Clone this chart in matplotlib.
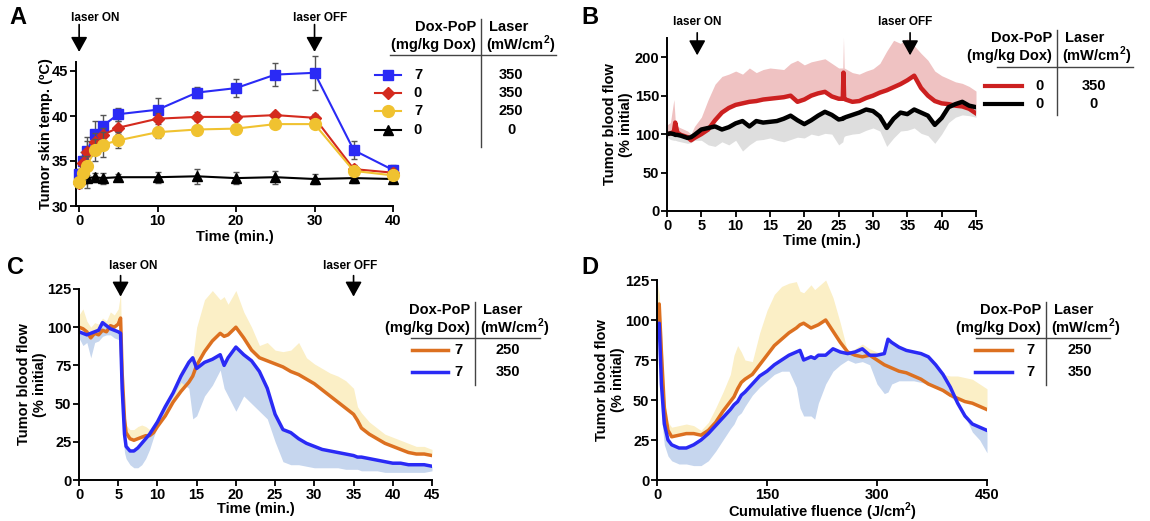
import matplotlib
matplotlib.use('Agg')
import matplotlib.pyplot as plt
from matplotlib.lines import Line2D

plt.rcParams['font.family'] = ['Liberation Sans', 'DejaVu Sans']
plt.rcParams['font.weight'] = 'bold'
plt.rcParams['axes.labelweight'] = 'bold'
plt.rcParams['mathtext.fontset'] = 'custom'
plt.rcParams['mathtext.rm'] = 'Liberation Sans:bold'
plt.rcParams['mathtext.bf'] = 'Liberation Sans:bold'

# ---------------- Panel A: skin temperature ----------------
a_time = [0, 0.5, 1, 2, 3, 5, 10, 15, 20, 25, 30, 35, 40]
a_blue = [33.6, 35.0, 36.1, 38.0, 38.9, 40.2, 40.7, 42.6, 43.1, 44.6, 44.8, 36.2, 34.0]
a_blue_err = [0.5, 1.0, 1.6, 1.5, 1.2, 0.7, 1.3, 0.6, 1.0, 1.3, 1.9, 1.0, 0.6]
a_red = [32.6, 34.8, 36.0, 37.1, 37.9, 38.7, 39.7, 39.9, 39.9, 40.1, 39.8, 34.1, 33.7]
a_red_err = [0.6, 0.8, 1.2, 1.0, 0.8, 0.7, 0.6, 0.5, 0.5, 0.4, 0.4, 0.5, 0.5]
a_yellow = [32.7, 33.7, 34.5, 36.2, 36.8, 37.3, 38.2, 38.5, 38.6, 39.1, 39.1, 33.9, 33.4]
a_yellow_err = [0.5, 0.8, 1.1, 1.2, 1.4, 0.9, 0.6, 0.5, 0.4, 0.4, 0.4, 0.4, 0.4]
a_black = [33.0, 33.1, 33.1, 33.2, 33.1, 33.2, 33.2, 33.3, 33.1, 33.2, 33.0, 33.1, 33.0]
a_black_err = [0.6, 0.7, 1.1, 0.5, 0.6, 0.4, 0.6, 0.8, 0.7, 0.7, 0.6, 0.5, 0.4]
a_dose = ['7', '0', '7', '0']
a_laser = ['350', '350', '250', '0']

# ---------------- Panel B: blood flow, no drug ----------------
b_time = [0, 0.5, 1, 1.2, 1.5, 2, 3, 3.5, 4, 5, 6, 7, 8, 9, 10, 11, 12, 13, 14, 15,
          16, 17, 18, 19, 20, 21, 22, 23, 24, 25, 25.6, 25.7, 25.8, 26, 27, 28, 29, 30,
          31, 32, 33, 34, 35, 36, 37, 38, 39, 40, 41, 42, 43, 44, 45]
b_red = [100, 101, 103, 115, 102, 99, 96, 92, 95, 100, 106, 118, 128, 134, 138, 140, 142, 143, 145, 146,
         147, 148, 150, 142, 145, 150, 153, 155, 149, 146, 146, 180, 146, 145, 142, 143, 147, 150,
         154, 157, 161, 165, 170, 176, 160, 150, 143, 140, 139, 137, 136, 133, 127]
b_red_hi = [112, 115, 145, 118, 110, 108, 104, 100, 110, 122, 145, 165, 175, 178, 182, 178, 186, 180, 184, 186,
            185, 184, 192, 196, 190, 194, 196, 198, 192, 186, 186, 226, 186, 185, 180, 178, 182, 185,
            192, 208, 222, 218, 224, 215, 205, 196, 182, 176, 172, 168, 166, 162, 156]
b_black = [100, 101, 100, 99, 99, 98, 95, 96, 99, 106, 108, 110, 106, 109, 114, 117, 110, 117, 115, 116,
           117, 120, 124, 118, 113, 118, 124, 129, 125, 119, 120, 121, 121, 122, 125, 128, 132, 130,
           123, 108, 120, 128, 126, 132, 128, 124, 112, 121, 135, 139, 142, 137, 135]
b_black_lo = [96, 93, 92, 92, 91, 90, 88, 89, 92, 92, 86, 84, 90, 86, 92, 78, 86, 92, 93, 95,
              92, 90, 93, 96, 95, 100, 98, 101, 100, 86, 90, 95, 97, 98, 100, 101, 105, 108,
              104, 84, 95, 104, 105, 108, 101, 98, 88, 100, 115, 122, 125, 124, 122]
b_dose = ['0', '0']
b_laser = ['350', '0']

# ---------------- Panel C: blood flow vs time, Dox-PoP ----------------
c_time = [0, 0.5, 1, 1.5, 2, 2.5, 3, 3.5, 4, 4.5, 5, 5.3, 5.5, 5.8, 6, 6.5, 7, 7.5, 8, 8.5,
          9, 9.5, 10, 11, 12, 13, 14, 14.5, 15, 16, 17, 18, 18.5, 19, 20, 21, 22, 23, 24, 25,
          26, 27, 28, 29, 30, 31, 32, 33, 34, 35, 35.5, 36, 37, 38, 39, 40, 41, 42, 43, 44, 45]
c_orange = [100, 99, 97, 93, 96, 95, 98, 97, 101, 100, 102, 106, 70, 40, 31, 27, 26, 27, 28, 29,
            29, 31, 35, 42, 51, 58, 64, 68, 75, 84, 91, 96, 94, 95, 100, 93, 85, 80, 78, 76,
            74, 71, 69, 66, 63, 59, 55, 51, 47, 43, 39, 34, 30, 27, 24, 22, 20, 18, 17, 17, 16]
c_orange_hi = [108, 112, 104, 100, 103, 102, 106, 104, 110, 108, 112, 122, 75, 45, 36, 33, 33, 35, 36, 35,
               33, 34, 38, 45, 58, 72, 78, 80, 100, 118, 124, 118, 120, 115, 124, 110, 100, 88, 90, 85,
               84, 85, 90, 80, 76, 73, 70, 68, 65, 60, 48, 44, 38, 34, 30, 28, 26, 24, 22, 22, 20]
c_blue = [97, 96, 95, 96, 97, 98, 103, 101, 99, 98, 97, 96, 60, 30, 22, 19, 19, 21, 24, 27,
          30, 34, 38, 48, 57, 68, 77, 80, 73, 77, 79, 82, 75, 80, 87, 82, 78, 71, 60, 43,
          33, 31, 27, 24, 22, 20, 19, 18, 17, 16, 15, 15, 14, 13, 12, 11, 11, 10, 10, 10, 9]
c_blue_lo = [93, 88, 90, 80, 90, 91, 94, 95, 95, 93, 92, 90, 40, 18, 14, 10, 8, 8, 10, 14,
             20, 28, 35, 45, 55, 64, 60, 40, 42, 55, 62, 72, 60, 55, 45, 55, 50, 45, 40, 25,
             12, 10, 10, 9, 8, 8, 8, 8, 7, 7, 7, 6, 6, 6, 5, 5, 5, 5, 5, 5, 6]

# ---------------- Panel D: blood flow vs fluence ----------------
d_fluence = [0, 3, 6, 10, 15, 20, 30, 40, 50, 60, 70, 80, 90, 100, 105, 110, 115, 120, 130, 140,
             150, 160, 170, 180, 190, 195, 200, 210, 215, 220, 230, 240, 250, 260, 270, 280, 290, 300,
             310, 315, 320, 330, 340, 350, 360, 370, 380, 390, 400, 410, 420, 430, 440, 450]
d_orange = [100, 110, 80, 45, 31, 27, 28, 29, 29, 28, 31, 36, 43, 49, 52, 57, 61, 63, 66, 72,
            78, 84, 88, 92, 95, 97, 98, 95, 96, 97, 100, 93, 86, 80, 78, 77, 78, 75,
            72, 71, 70, 68, 67, 65, 63, 60, 58, 56, 53, 51, 49, 48, 46, 44]
d_orange_hi = [124, 116, 95, 52, 36, 33, 34, 35, 34, 31, 36, 45, 55, 66, 78, 84, 80, 75, 74, 92,
               106, 116, 121, 123, 124, 118, 117, 122, 119, 121, 125, 114, 98, 80, 82, 85, 82, 80,
               79, 80, 78, 77, 76, 75, 74, 71, 68, 66, 65, 65, 64, 63, 60, 57]
d_blue = [95, 98, 60, 35, 25, 22, 20, 20, 22, 25, 29, 34, 39, 44, 47, 49, 53, 55, 60, 65,
          68, 72, 75, 78, 80, 81, 75, 77, 76, 78, 78, 82, 80, 79, 80, 82, 78, 78,
          79, 88, 86, 83, 81, 80, 79, 77, 72, 66, 58, 48, 40, 35, 33, 31]
d_blue_lo = [85, 88, 40, 22, 15, 12, 10, 10, 9, 9, 12, 18, 25, 32, 35, 40, 42, 46, 53, 58,
             62, 66, 68, 68, 58, 45, 40, 40, 38, 48, 60, 68, 72, 75, 73, 74, 72, 60,
             54, 55, 60, 62, 62, 62, 61, 60, 58, 55, 52, 48, 40, 30, 25, 17]
cd_dose = ['7', '7']
cd_laser = ['250', '350']

BLUE = '#2a2af5'
RED = '#d42a1e'
YELLOW = '#f0c230'
ORANGE = '#dc7020'
LBLUE_BAND = '#c6d6ee'
YELLOW_BAND = '#fbefc6'
PINK_BAND = '#efc2c2'
GRAY_BAND = '#dedede'

W, H = 1150, 521
fig = plt.figure(figsize=(W / 100, H / 100), dpi=100)


def px(x, y):
    return x / W, 1 - y / H


def rect(x0, y_top, x1, y_bot):
    return [x0 / W, 1 - y_bot / H, (x1 - x0) / W, (y_bot - y_top) / H]


def style_axes(ax):
    for s in ['top', 'right']:
        ax.spines[s].set_visible(False)
    for s in ['left', 'bottom']:
        ax.spines[s].set_linewidth(1.4)
    ax.tick_params(direction='out', length=4, width=1.3, labelsize=10.5, pad=1.5)
    for lab in ax.get_xticklabels() + ax.get_yticklabels():
        lab.set_fontweight('bold')


def laser_arrow(ax, x, y_tip, y_tail):
    ax.annotate('', xy=(x, y_tip), xytext=(x, y_tail),
                xycoords=('data', 'axes fraction'), textcoords=('data', 'axes fraction'),
                arrowprops=dict(arrowstyle='-|>,head_width=0.5,head_length=0.9',
                                color='k', lw=1.2, mutation_scale=10, shrinkA=0, shrinkB=0),
                annotation_clip=False)


def legend_table(vx, y0, y_rule, x_rule0, x_rule1, y_end, rows, x_l0, x_l1, x_dose, x_laser):
    fs = 10.5
    fig.text(*px(vx - 5, y0), 'Dox-PoP', ha='right', va='center', fontsize=fs, weight='bold')
    fig.text(*px(vx - 5, y0 + 18), '(mg/kg Dox)', ha='right', va='center', fontsize=fs, weight='bold')
    fig.text(*px(vx + 8, y0), 'Laser', ha='left', va='center', fontsize=fs, weight='bold')
    fig.text(*px(vx + 5, y0 + 18), r'(mW/cm$^\mathbf{2}$)', ha='left', va='center', fontsize=fs, weight='bold')
    xa, ya = px(vx, y0 - 8)
    xb, yb = px(vx, y_end)
    fig.add_artist(Line2D([xa, xb], [ya, yb], color='#444444', lw=1.0, transform=fig.transFigure))
    xa, ya = px(x_rule0, y_rule)
    xb, yb = px(x_rule1, y_rule)
    fig.add_artist(Line2D([xa, xb], [ya, yb], color='#444444', lw=1.0, transform=fig.transFigure))
    for y, color, marker, ms, lw, dose, laser in rows:
        xa, ya = px(x_l0, y)
        xb, _ = px(x_l1, y)
        fig.add_artist(Line2D([xa, xb], [ya, ya], color=color, lw=lw, transform=fig.transFigure))
        if marker:
            fig.add_artist(Line2D([(xa + xb) / 2], [ya], color=color, marker=marker, ms=ms,
                                  lw=0, transform=fig.transFigure))
        fig.text(*px(x_dose, y), dose, ha='center', va='center', fontsize=fs, weight='bold')
        fig.text(*px(x_laser, y), laser, ha='center', va='center', fontsize=fs, weight='bold')


# ---- A ----
axA = fig.add_axes(rect(76, 62, 393, 206))
eb = dict(ecolor='#555555', elinewidth=1.0, capsize=2.5, capthick=1.0, clip_on=False)
axA.errorbar(a_time, a_black, yerr=a_black_err, color='k', marker='^', ms=7, lw=1.5, zorder=3, **eb)
axA.errorbar(a_time, a_blue, yerr=a_blue_err, color=BLUE, marker='s', ms=7, lw=1.5, zorder=4, **eb)
axA.errorbar(a_time, a_red, yerr=a_red_err, color=RED, marker='D', ms=6, lw=1.5, zorder=5, **eb)
axA.errorbar(a_time, a_yellow, yerr=a_yellow_err, color=YELLOW, marker='o', ms=8.5, lw=1.5, zorder=6, **eb)
axA.set_xlim(-0.4, 40)
axA.set_ylim(30, 46)
axA.set_xticks([0, 10, 20, 30, 40])
axA.set_yticks([30, 35, 40, 45])
axA.set_xlabel('Time (min.)', fontsize=10.5, labelpad=2)
axA.set_ylabel('Tumor skin temp. (ºC)', fontsize=10.5, labelpad=-1)
style_axes(axA)
laser_arrow(axA, 0, 1.07, 1.26)
laser_arrow(axA, 30, 1.07, 1.26)
fig.text(*px(95, 18), 'laser ON', ha='center', va='center', fontsize=8.5, weight='bold')
fig.text(*px(320, 18), 'laser OFF', ha='center', va='center', fontsize=8.5, weight='bold')
legend_table(481, 27, 55, 390, 556, 147,
             [(75, BLUE, 's', 7, 1.5, a_dose[0], a_laser[0]),
              (93, RED, 'D', 6, 1.5, a_dose[1], a_laser[1]),
              (111, YELLOW, 'o', 8.5, 1.5, a_dose[2], a_laser[2]),
              (130, 'k', '^', 7, 1.5, a_dose[3], a_laser[3])],
             375, 401, 418, 511)

# ---- B ----
axB = fig.add_axes(rect(667, 38, 976, 211))
axB.fill_between(b_time, b_red, b_red_hi, color=PINK_BAND, lw=0)
axB.fill_between(b_time, b_black_lo, b_black, color=GRAY_BAND, lw=0)
axB.plot(b_time, b_red, color='#cc2020', lw=3.2)
axB.plot(b_time, b_black, color='k', lw=3.2)
axB.set_xlim(0, 45)
axB.set_ylim(0, 225)
axB.set_xticks(range(0, 46, 5))
axB.set_yticks([0, 50, 100, 150, 200])
axB.set_xlabel('Time (min.)', fontsize=10.5, labelpad=1)
axB.set_ylabel('Tumor blood flow\n(% initial)', fontsize=10.5, labelpad=1)
style_axes(axB)
laser_arrow(axB, 4.4, 0.90, 1.03)
laser_arrow(axB, 35.4, 0.90, 1.03)
fig.text(*px(697, 22), 'laser ON', ha='center', va='center', fontsize=8.5, weight='bold')
fig.text(*px(905, 22), 'laser OFF', ha='center', va='center', fontsize=8.5, weight='bold')
legend_table(1057, 38, 67, 997, 1133, 115,
             [(86, '#cc2020', None, 0, 3.0, b_dose[0], b_laser[0]),
              (104, 'k', None, 0, 3.0, b_dose[1], b_laser[1])],
             985, 1022, 1040, 1094)

# ---- C ----
axC = fig.add_axes(rect(79, 289, 432, 480))
axC.fill_between(c_time, c_orange, c_orange_hi, color=YELLOW_BAND, lw=0)
axC.fill_between(c_time, c_blue_lo, c_blue, color=LBLUE_BAND, lw=0)
axC.plot(c_time, c_orange, color=ORANGE, lw=2.5)
axC.plot(c_time, c_blue, color=BLUE, lw=2.5)
axC.set_xlim(0, 45)
axC.set_ylim(0, 125)
axC.set_xticks(range(0, 46, 5))
axC.set_yticks([0, 25, 50, 75, 100, 125])
axC.set_xlabel('Time (min.)', fontsize=10.5, labelpad=0)
axC.set_ylabel('Tumor blood flow\n(% initial)', fontsize=10.5, labelpad=0)
style_axes(axC)
laser_arrow(axC, 5.3, 0.96, 1.07)
laser_arrow(axC, 35.0, 0.96, 1.07)
fig.text(*px(133, 266), 'laser ON', ha='center', va='center', fontsize=8.5, weight='bold')
fig.text(*px(350, 266), 'laser OFF', ha='center', va='center', fontsize=8.5, weight='bold')
legend_table(475, 310, 338, 411, 540, 385,
             [(350, ORANGE, None, 0, 2.5, cd_dose[0], cd_laser[0]),
              (372, BLUE, None, 0, 2.5, cd_dose[1], cd_laser[1])],
             412, 448, 458, 508)

# ---- D ----
axD = fig.add_axes(rect(657, 280, 987, 480))
axD.fill_between(d_fluence, d_orange, d_orange_hi, color=YELLOW_BAND, lw=0)
axD.fill_between(d_fluence, d_blue_lo, d_blue, color=LBLUE_BAND, lw=0)
axD.plot(d_fluence, d_orange, color=ORANGE, lw=2.5)
axD.plot(d_fluence, d_blue, color=BLUE, lw=2.5)
axD.set_xlim(0, 450)
axD.set_ylim(0, 125)
axD.set_xticks([0, 150, 300, 450])
axD.set_yticks([0, 25, 50, 75, 100, 125])
axD.set_xlabel('Cumulative fluence (J/cm$^\\mathbf{2}$)', fontsize=10.5, labelpad=-1)
axD.set_ylabel('Tumor blood flow\n(% initial)', fontsize=10.5, labelpad=0)
style_axes(axD)
legend_table(1046, 310, 338, 976, 1110, 385,
             [(350, ORANGE, None, 0, 2.5, cd_dose[0], cd_laser[0]),
              (372, BLUE, None, 0, 2.5, cd_dose[1], cd_laser[1])],
             975, 1012, 1030, 1080)

for lab, (x, y) in zip('ABCD', [(18, 18), (590, 18), (15, 267), (590, 267)]):
    fig.text(*px(x, y), lab, ha='center', va='center', fontsize=17, weight='bold')

fig.savefig('out.png', dpi=100)
